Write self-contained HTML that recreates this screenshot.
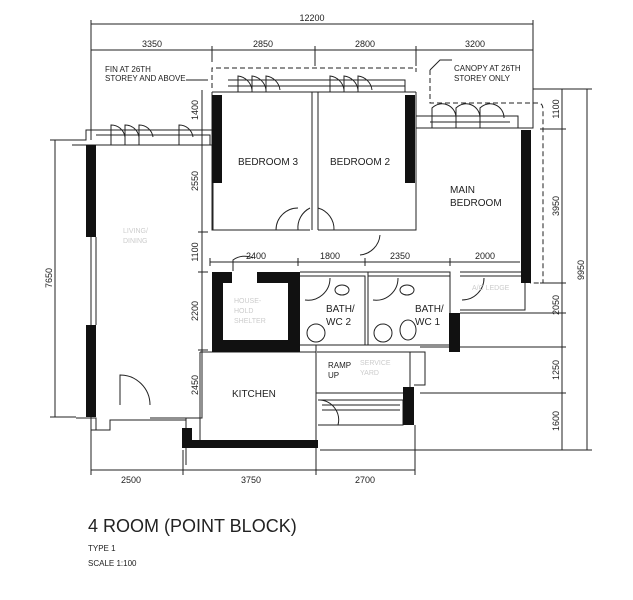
<!DOCTYPE html>
<html><head><style>
body{margin:0;background:#fff}
svg{display:block}
text{font-family:"Liberation Sans",sans-serif;fill:#222}
</style></head><body>
<svg width="633" height="600" viewBox="0 0 633 600" xmlns="http://www.w3.org/2000/svg">
<g stroke="#222" stroke-width="1" fill="none">
<line x1="91" y1="24" x2="533" y2="24"/>
<line x1="91" y1="20" x2="91" y2="140"/>
<line x1="533" y1="20" x2="533" y2="128"/>
<line x1="91" y1="50" x2="533" y2="50"/>
<line x1="212" y1="46" x2="212" y2="62"/><line x1="315" y1="46" x2="315" y2="66"/><line x1="416" y1="46" x2="416" y2="66"/>
<path d="M212 88 V68 H416 V72 M430 70 V103 H538 Q543 103 543 110 V283 H530" stroke-dasharray="5,3"/>
<path d="M186 80 H208"/><path d="M430 70 L440 60 H452"/>
<path d="M212 92 H416 M228 80 H405 V92 M228 86 H405"/>
<path d="M238 92 V76 A16 16 0 0 1 252 90 M252 92 V76 A16 16 0 0 1 266 90 M266 92 V76 A16 16 0 0 1 280 90 M330 92 V76 A16 16 0 0 1 344 90 M344 92 V76 A16 16 0 0 1 358 90 M358 92 V76 A16 16 0 0 1 372 90"/>
<path d="M72 140 H86 V130 H212 M72 145 H212 M96 135 H210 V145"/>
<path d="M111 145 V125 A14 14 0 0 1 125 137 M125 145 V125 A14 14 0 0 1 139 137 M139 145 V125 A14 14 0 0 1 153 137 M179 145 V125 A14 14 0 0 1 193 137"/>
<path d="M416 128 H533 V92 M416 116 H518 V128 M430 122 H510"/>
<path d="M432 128 V108 A14 14 0 0 1 456 118 M456 128 V108 A14 14 0 0 1 480 118 M480 128 V108 A14 14 0 0 1 504 118"/>
<path d="M212 92 V230 H310 M318 230 H416 V92 M213 95 V230 M312 92 V230 M318 92 V230"/>
<path d="M298 230 A22 22 0 0 1 310 208 M334 230 A22 22 0 0 0 318 208 M298 230 H276 A22 22 0 0 1 298 208"/>
<path d="M360 255 A22 22 0 0 0 380 235"/>
<path d="M91 237 V325 M96 237 V325 M91 417 V430 H110 V420 H186"/>
<path d="M120 405 V375 A30 30 0 0 1 150 405"/>
<path d="M76 418 H96 V430 M150 418 H186 V465 M180 418 H202 V352"/>
<path d="M233 272 V260 A20 20 0 0 1 253 258"/>
<path d="M300 272 H450 V345 M300 276 H365 V345 M368 276 H450 M368 272 V345 M300 345 H460"/>
<path d="M460 272 H530 M460 276 H525 V310 H460"/>
<path d="M305 300 A22 22 0 0 0 330 278 M373 300 A22 22 0 0 0 398 278 M462 300 A22 22 0 0 0 484 278"/>
<ellipse cx="316" cy="333" rx="9" ry="9"/><ellipse cx="383" cy="333" rx="9" ry="9"/><ellipse cx="408" cy="330" rx="8" ry="10"/><ellipse cx="342" cy="290" rx="7" ry="5"/><ellipse cx="407" cy="290" rx="7" ry="5"/>
<path d="M316 345 V440 M317 352 H410 V393 H316 M410 352 H425 V385 H414"/>
<path d="M318 400 H403 V425 H318 M322 405 H400 M322 410 H400 M320 400 A20 20 0 0 1 338 425"/>
<path d="M200 352 H316 M200 352 V440"/>
<line x1="55" y1="140" x2="55" y2="417"/><line x1="50" y1="140" x2="72" y2="140"/><line x1="50" y1="417" x2="76" y2="417"/>
<line x1="202" y1="90" x2="202" y2="418"/>
<line x1="198" y1="130" x2="208" y2="130"/><line x1="198" y1="232" x2="208" y2="232"/><line x1="198" y1="272" x2="208" y2="272"/><line x1="198" y1="350" x2="208" y2="350"/>
<line x1="210" y1="262" x2="520" y2="262"/>
<line x1="210" y1="258" x2="210" y2="266"/><line x1="298" y1="258" x2="298" y2="266"/><line x1="365" y1="258" x2="365" y2="266"/><line x1="450" y1="258" x2="450" y2="266"/>
<line x1="533" y1="89" x2="592" y2="89"/><line x1="562" y1="89" x2="562" y2="450"/><line x1="587" y1="89" x2="587" y2="450"/>
<line x1="540" y1="129" x2="566" y2="129"/><line x1="460" y1="313" x2="566" y2="313"/><line x1="420" y1="347" x2="566" y2="347"/><line x1="420" y1="393" x2="566" y2="393"/><line x1="320" y1="450" x2="592" y2="450"/>
<line x1="540" y1="283" x2="566" y2="283"/>
<line x1="91" y1="470" x2="415" y2="470"/>
<line x1="91" y1="430" x2="91" y2="475"/><line x1="183" y1="450" x2="183" y2="475"/><line x1="316" y1="440" x2="316" y2="475"/><line x1="415" y1="425" x2="415" y2="475"/>
</g>
<g fill="#111">
<rect x="212" y="95" width="10" height="88"/>
<rect x="405" y="95" width="10" height="88"/>
<rect x="521" y="130" width="10" height="153"/>
<rect x="86" y="145" width="10" height="92"/>
<rect x="86" y="325" width="10" height="92"/>
<path d="M212 272 H300 V352 H212 Z M223 283 V340 H288 V283 Z" fill-rule="evenodd"/>
<rect x="449" y="313" width="11" height="39"/>
<rect x="183" y="440" width="135" height="8"/>
<rect x="182" y="428" width="10" height="20"/>
<rect x="403" y="387" width="11" height="38"/>
</g>
<rect x="232" y="271" width="25" height="13" fill="#fff"/>
<g font-size="9" text-anchor="middle">
<text x="312" y="21">12200</text>
<text x="152" y="47">3350</text><text x="263" y="47">2850</text><text x="365" y="47">2800</text><text x="475" y="47">3200</text>
<text x="256" y="259">2400</text><text x="330" y="259">1800</text><text x="400" y="259">2350</text><text x="485" y="259">2000</text>
<text x="131" y="483">2500</text><text x="251" y="483">3750</text><text x="365" y="483">2700</text>
</g>
<g font-size="9" text-anchor="middle">
<text transform="translate(52 278) rotate(-90)">7650</text>
<text transform="translate(198 110) rotate(-90)">1400</text>
<text transform="translate(198 181) rotate(-90)">2550</text>
<text transform="translate(198 252) rotate(-90)">1100</text>
<text transform="translate(198 311) rotate(-90)">2200</text>
<text transform="translate(198 385) rotate(-90)">2450</text>
<text transform="translate(559 109) rotate(-90)">1100</text>
<text transform="translate(559 206) rotate(-90)">3950</text>
<text transform="translate(559 305) rotate(-90)">2050</text>
<text transform="translate(559 370) rotate(-90)">1250</text>
<text transform="translate(559 421) rotate(-90)">1600</text>
<text transform="translate(584 270) rotate(-90)">9950</text>
</g>
<g font-size="8">
<text x="105" y="72">FIN AT 26TH</text><text x="105" y="81">STOREY AND ABOVE</text>
<text x="454" y="71">CANOPY AT 26TH</text><text x="454" y="81">STOREY ONLY</text>
</g>
<g font-size="10">
<text x="238" y="165">BEDROOM 3</text><text x="330" y="165">BEDROOM 2</text>
<text x="450" y="193">MAIN</text><text x="450" y="206">BEDROOM</text>
<text x="232" y="397">KITCHEN</text>
<text x="326" y="312">BATH/</text><text x="326" y="325">WC 2</text>
<text x="415" y="312">BATH/</text><text x="415" y="325">WC 1</text>
</g>
<g font-size="8">
<text x="328" y="368">RAMP</text><text x="328" y="378">UP</text>
</g>
<g font-size="7"><text x="123" y="233" style="fill:#ccc">LIVING/</text><text x="123" y="243" style="fill:#ccc">DINING</text>
<text x="234" y="303" style="fill:#ccc">HOUSE-</text><text x="234" y="313" style="fill:#ccc">HOLD</text><text x="234" y="323" style="fill:#ccc">SHELTER</text>
<text x="360" y="365" style="fill:#ccc">SERVICE</text><text x="360" y="375" style="fill:#ccc">YARD</text>
<text x="472" y="290" style="fill:#ccc">A/C LEDGE</text></g>
<text x="88" y="532" font-size="18">4 ROOM (POINT BLOCK)</text>
<text x="88" y="551" font-size="8">TYPE 1</text>
<text x="88" y="566" font-size="8">SCALE  1:100</text>
</svg>
</body></html>
